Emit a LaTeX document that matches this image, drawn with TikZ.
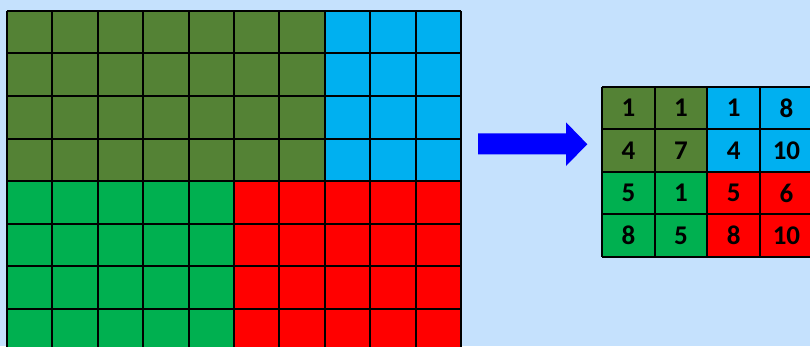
\documentclass[tikz,border=0pt]{standalone}
\usepackage{fontspec}
\setmainfont{Carlito}
\definecolor{bgblue}{RGB}{197,225,253}
\definecolor{olivegreen}{RGB}{84,130,53}
\definecolor{skyblue}{RGB}{0,176,240}
\definecolor{leafgreen}{RGB}{0,176,80}
\definecolor{brightred}{RGB}{255,0,0}
\definecolor{arrowblue}{RGB}{0,0,255}
\tikzset{
    gridline/.style={line width=2pt,black},
    num/.style={font=\fontsize{27}{31}\selectfont\bfseries,inner sep=0pt}
}
\begin{document}
\begin{tikzpicture}[x=1pt,y=1pt]
    \fill [bgblue] (0,0) rectangle (810,346);
    \useasboundingbox (0,0) rectangle (810,346);
    % big feature map
    \begin{scope}[shift={(7,-5)},x=45.4pt,y=42.5pt]
    \fill [olivegreen] (0,4) rectangle (7,8);\fill [skyblue] (7,4) rectangle (10,8);
    \fill [leafgreen] (0,0) rectangle (5,4);\fill [brightred] (5,0) rectangle (10,4);
    \draw [gridline,step=1] (0,0) grid (10,8);
    \end{scope}
    % arrow
    \fill [arrowblue] (478,191.7) -- (478,212.7) -- (566,212.7) -- (566,223.7)
        -- (587.3,201.8) -- (566,180) -- (566,191.7) -- cycle;
    % pooled map
    \begin{scope}[shift={(602,89.3)},x=52.7pt,y=42.5pt]
    \fill [olivegreen] (0,2) rectangle (2,4);\fill [skyblue] (2,2) rectangle (4,4);
    \fill [leafgreen] (0,0) rectangle (2,2);\fill [brightred] (2,0) rectangle (4,2);
    \draw [gridline,step=1] (0,0) grid (4,4);
    % numbers
    \node [num] (a11) at (0.5,3.5) {1};\node [num] (a12) at (1.5,3.5) {1};
    \node [num] (a13) at (2.5,3.5) {1};\node [num] (a14) at (3.5,3.5) {8};
    \node [num] (a21) at (0.5,2.5) {4};\node [num] (a22) at (1.5,2.5) {7};
    \node [num] (a23) at (2.5,2.5) {4};\node [num] (a24) at (3.5,2.5) {10};
    \node [num] (a31) at (0.5,1.5) {5};\node [num] (a32) at (1.5,1.5) {1};
    \node [num] (a33) at (2.5,1.5) {5};\node [num] (a34) at (3.5,1.5) {6};
    \node [num] (a41) at (0.5,0.5) {8};\node [num] (a42) at (1.5,0.5) {5};
    \node [num] (a43) at (2.5,0.5) {8};\node [num] (a44) at (3.5,0.5) {10};
    \end{scope}
\end{tikzpicture}
\end{document}
